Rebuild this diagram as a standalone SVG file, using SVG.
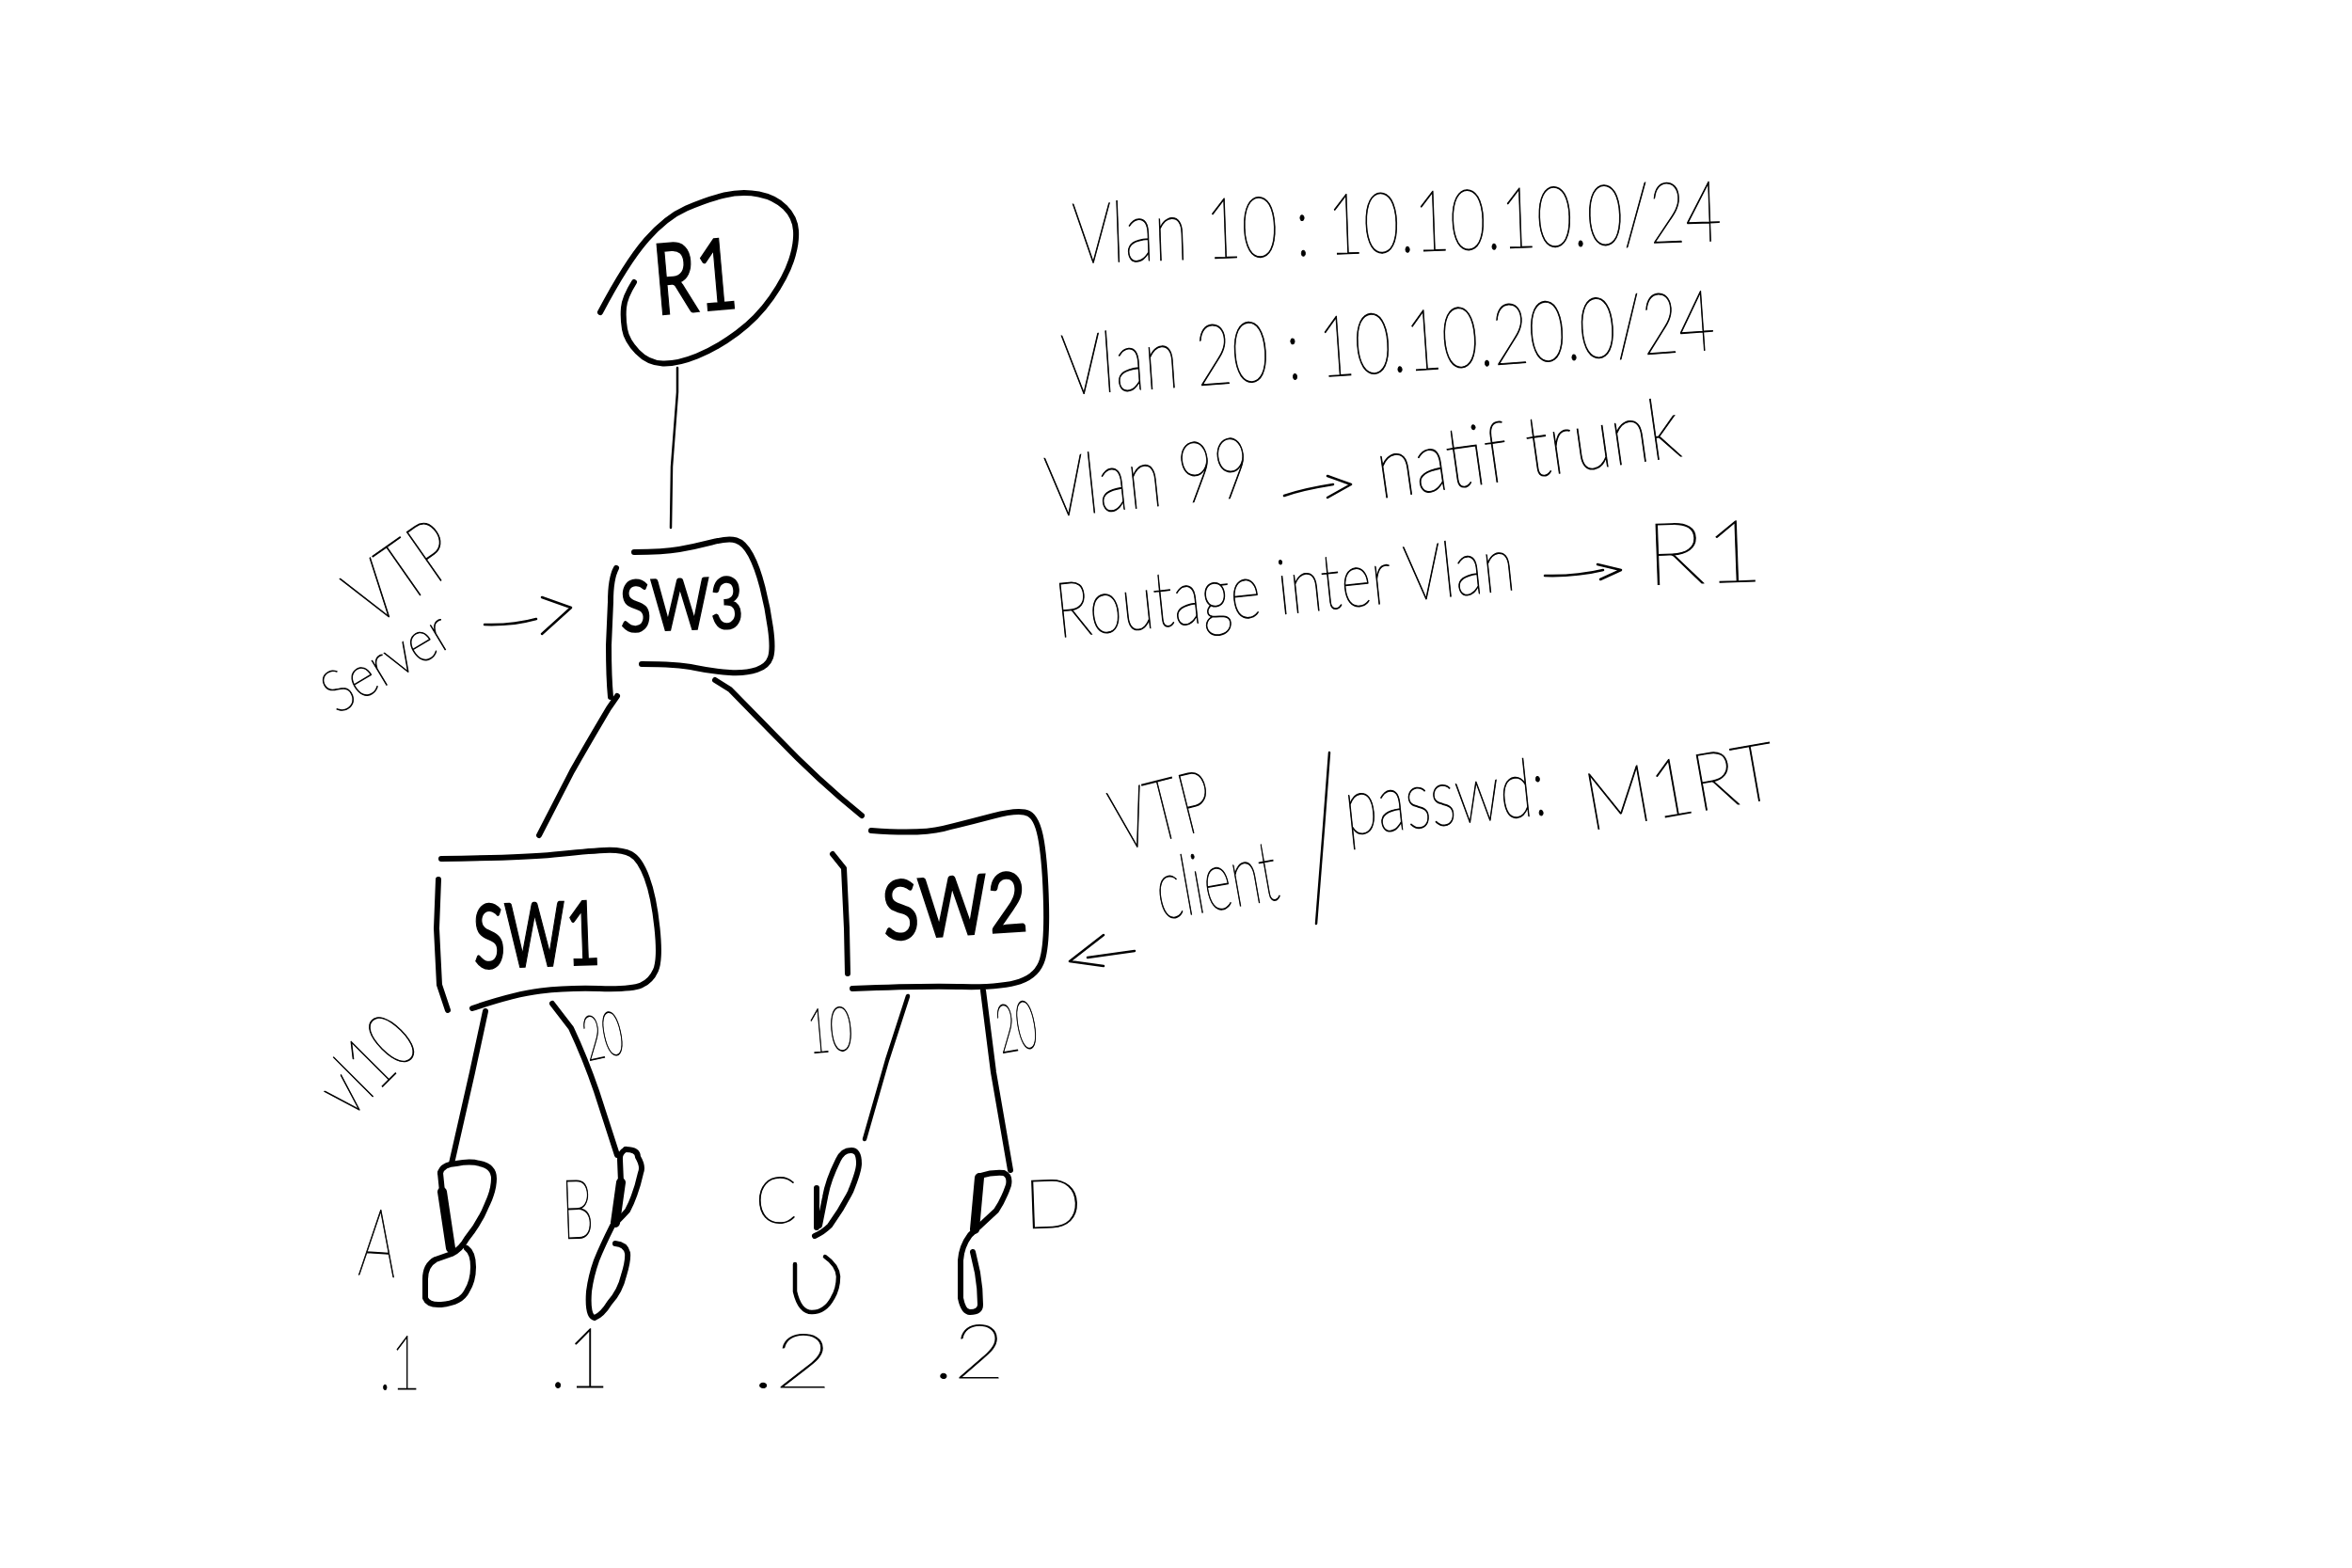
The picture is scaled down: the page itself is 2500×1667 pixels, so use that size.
<svg xmlns="http://www.w3.org/2000/svg" width="2500" height="1667" viewBox="0 0 2500 1667">
<style>
.bg{fill:#fff}
.s{fill:none;stroke:#000;stroke-width:6;stroke-linecap:round;stroke-linejoin:round}
.m{stroke-width:4.5}
.h{stroke-width:10}
.f{fill:none;stroke:#000;stroke-width:2.5;stroke-linecap:round;stroke-linejoin:round}
text{font-family:"Lato","Liberation Sans",sans-serif;fill:#000}
.t{font-weight:100;stroke:#000;stroke-width:1}
.b{font-weight:400;stroke:#000;stroke-width:1.6}
</style>
<rect class="bg" width="2500" height="1667"/>
<g id="connectors">
<path class="f" d="M720 391 L720 417 L714 496 L713 561"/>
<path class="s" d="M656 740 L647 753 Q625 790 608 820 L573 888"/>
<path class="s" d="M760 723 L776 733 L825 783 Q870 830 916 867"/>
<path class="s" d="M516 1075 L502 1140 L480 1237"/>
<path class="s" d="M587 1067 L607 1093 Q622 1125 634 1160 L656 1228"/>
<path class="s m" d="M965 1059 L943 1127 L919 1211"/>
<path class="s" d="M1045 1053 L1056 1140 L1074 1244"/>
</g>
<g id="R1">
<path class="s" d="M638 332 Q666 279 687 255 Q708 231 729.5 221.5 Q751 212 770 207.5 Q789 203 806.5 206.5 Q824 210 834.5 220.5 Q845 231 846 245 Q847 259 841 277 Q835 295 820 316.5 Q805 338 783.5 354 Q762 370 741 378.5 Q720 387 704.5 386.5 Q689 386 677.5 374 Q666 362 664 350 Q662 338 663 327 Q664 316 674 300"/>
<text class="b" transform="translate(698,335) rotate(-5)" font-size="105" textLength="88" lengthAdjust="spacingAndGlyphs">R1</text>
</g>
<g id="SW3">
<path class="s" d="M674 587 Q705 587 722 584 Q739 581 756.5 576.5 Q774 572 782.5 574.5 Q791 577 798 590 Q805 603 810.5 624.5 Q816 646 819 668 Q822 690 819 699 Q816 708 804.5 712 Q793 716 775.5 715 Q758 714 739 710 Q720 706 682 706"/>
<path class="s" d="M655 604 Q649 615 649 640 L647 686 Q647 720 649 741"/>
<text class="b" transform="translate(660,672) rotate(-2)" font-size="76" textLength="131" lengthAdjust="spacingAndGlyphs">SW3</text>
</g>
<g id="SW1">
<path class="s" d="M469 913 Q555 912 589 908.5 Q623 905 642 904 Q661 903 670.5 908 Q680 913 687.5 933 Q695 953 698.5 986.5 Q702 1020 697 1031.5 Q692 1043 681.5 1047.5 Q671 1052 637 1051 Q603 1050 574.5 1053.5 Q546 1057 502 1072"/>
<path class="s" d="M466 935 L464 987 L467 1047 L476 1074"/>
<text class="b" transform="translate(504,1030) rotate(-2)" font-size="95" textLength="135" lengthAdjust="spacingAndGlyphs">SW1</text>
</g>
<g id="SW2">
<path class="s" d="M926 883 Q978 887 1002.5 881 Q1027 875 1055.5 867.5 Q1084 860 1093.5 865 Q1103 870 1107 895 Q1111 920 1112 961.5 Q1113 1003 1108 1020 Q1103 1037 1084 1043.5 Q1065 1050 1021.5 1049 Q978 1048 906 1051"/>
<path class="s" d="M885 908 L897 923 L900 987 L901 1035"/>
<text class="b" transform="translate(940,1000) rotate(-4)" font-size="88" textLength="154" lengthAdjust="spacingAndGlyphs">SW2</text>
</g>
<g id="hostA">
<path class="s" d="M468 1247 Q470 1238 485 1237 Q500 1234 510 1237 Q525 1240 525 1253 Q525 1265 518 1280 Q510 1300 496 1317 Q490 1328 480 1333 L463 1339 Q452 1345 452 1360 L452 1380 Q455 1388 469 1387 Q490 1385 496 1373 Q503 1362 503 1347 Q503 1332 496 1327"/>
<path class="s" d="M468 1247 L470 1267"/>
<path class="s h" d="M470 1267 L479 1327"/>
<text class="t" transform="translate(380,1355) rotate(4)" font-size="100" textLength="40" lengthAdjust="spacingAndGlyphs">A</text>
<text class="t" transform="translate(403,1477)" font-size="80" textLength="44" lengthAdjust="spacingAndGlyphs">.1</text>
</g>
<g id="hostB">
<path class="s" d="M665 1222 Q678 1222 678 1230 Q684 1240 681 1247 Q676 1270 667 1287 Q658 1297 651 1303 Q640 1325 634 1340 Q628 1357 626 1373 Q624 1400 632 1401 Q640 1398 648 1385 Q659 1373 663 1356 Q668 1340 667 1332 Q665 1323 654 1322"/>
<path class="s" d="M665 1222 Q658 1226 659 1233 L660 1257"/>
<path class="s h" d="M660 1257 L654 1300"/>
<text class="t" transform="translate(598,1317) rotate(-2)" font-size="88" textLength="34" lengthAdjust="spacingAndGlyphs">B</text>
<text class="t" transform="translate(584,1475)" font-size="88" textLength="64" lengthAdjust="spacingAndGlyphs">.1</text>
</g>
<g id="hostC">
<path class="s" d="M868 1263 L868 1305"/>
<path class="s" d="M866 1314 Q875 1310 882 1303 Q895 1285 904 1267 Q913 1245 913 1237 Q913 1222 904 1223 Q896 1223 891 1233 Q880 1255 877 1273 L871 1303"/>
<path class="s m" d="M845 1344 L845 1373 Q850 1395 863 1395 Q877 1395 885 1380 Q891 1370 891 1357 Q890 1345 877 1336"/>
<text class="t" transform="translate(803,1300)" font-size="68" textLength="44" lengthAdjust="spacingAndGlyphs">C</text>
<text class="t" transform="translate(799,1475)" font-size="80" textLength="85" lengthAdjust="spacingAndGlyphs">.2</text>
</g>
<g id="hostD">
<path class="s h" d="M1041 1252 L1036 1307"/>
<path class="s" d="M1042 1250 Q1055 1246 1067 1247 Q1074 1250 1072 1260 Q1067 1275 1059 1287 Q1045 1300 1031 1313 Q1022 1325 1021 1340 L1021 1380 Q1024 1395 1031 1395 Q1042 1395 1042 1387 Q1042 1370 1039 1353 L1034 1331"/>
<text class="t" transform="translate(1089,1306) rotate(-2)" font-size="72" textLength="62" lengthAdjust="spacingAndGlyphs">D</text>
<text class="t" transform="translate(992,1465)" font-size="80" textLength="76" lengthAdjust="spacingAndGlyphs">.2</text>
</g>
<g id="notes">
<text class="t" transform="translate(1141,280) rotate(-2)" font-size="90" textLength="690" lengthAdjust="spacingAndGlyphs">Vlan 10 : 10.10.10.0/24</text>
<text class="t" transform="translate(1131,420) rotate(-4)" font-size="90" textLength="695" lengthAdjust="spacingAndGlyphs">Vlan 20 : 10.10.20.0/24</text>
<text class="t" transform="translate(1115,550) rotate(-6)" font-size="90" textLength="218" lengthAdjust="spacingAndGlyphs">Vlan 99</text>
<text class="t" transform="translate(1467,530) rotate(-8)" font-size="90" textLength="325" lengthAdjust="spacingAndGlyphs">natif trunk</text>
<path class="f" d="M1365 527 Q1385 520 1417 515 M1411 506 L1436 515 L1411 529"/>
<text class="t" transform="translate(1125,678) rotate(-6)" font-size="82" textLength="490" lengthAdjust="spacingAndGlyphs">Routage inter Vlan</text>
<path class="f" d="M1642 612 Q1675 613 1704 606 M1698 600 L1723 606 L1701 616"/>
<text class="t" transform="translate(1750,622) rotate(-2)" font-size="92" textLength="125" lengthAdjust="spacingAndGlyphs">R1</text>
<text class="t" transform="translate(396,668) rotate(-35)" font-size="90" textLength="118" lengthAdjust="spacingAndGlyphs">VTP</text>
<text class="t" transform="translate(358,760) rotate(-31)" font-size="62" textLength="148" lengthAdjust="spacingAndGlyphs">Server</text>
<path class="f" d="M515 664 Q545 665 570 658 M576 635 L607 646 L576 674"/>
<text class="t" transform="translate(1190,905) rotate(-14)" font-size="90" textLength="108" lengthAdjust="spacingAndGlyphs">VTP</text>
<text class="t" transform="translate(1234,978) rotate(-10)" font-size="90" textLength="130" lengthAdjust="spacingAndGlyphs">client</text>
<path class="f" d="M1413 800 L1407 880 L1399 982"/>
<text class="t" transform="translate(1432,888) rotate(-6)" font-size="86" textLength="215" lengthAdjust="spacingAndGlyphs">passwd:</text>
<text class="t" transform="translate(1690,883) rotate(-10)" font-size="85" textLength="205" lengthAdjust="spacingAndGlyphs">M1RT</text>
<path class="f" d="M1206 1011 L1156 1018 M1173 994 L1137 1022 L1173 1027"/>
<text class="t" transform="translate(372,1190) rotate(-45)" font-size="82" textLength="108" lengthAdjust="spacingAndGlyphs">vl10</text>
<text class="t" transform="translate(625,1128) rotate(-12)" font-size="66" textLength="42" lengthAdjust="spacingAndGlyphs">20</text>
<text class="t" transform="translate(860,1120) rotate(-5)" font-size="66" textLength="48" lengthAdjust="spacingAndGlyphs">10</text>
<text class="t" transform="translate(1064,1120) rotate(-10)" font-size="72" textLength="42" lengthAdjust="spacingAndGlyphs">20</text>
</g>
</svg>
